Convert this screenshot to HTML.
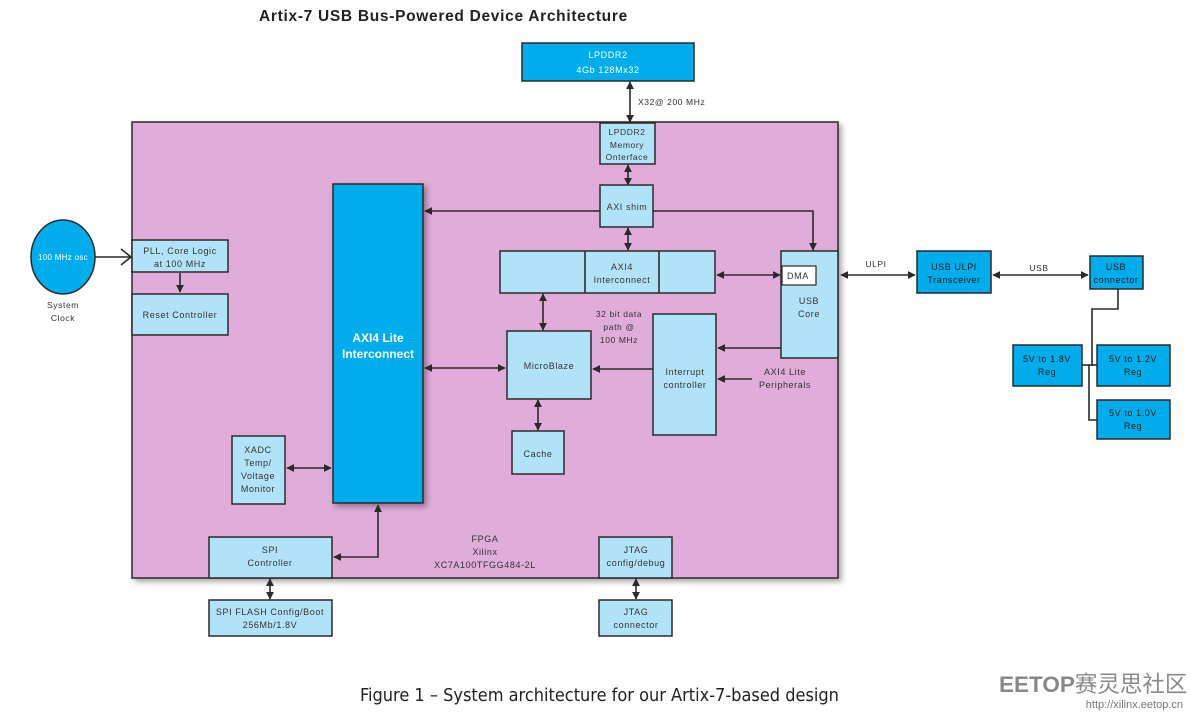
<!DOCTYPE html>
<html><head><meta charset="utf-8"><style>
html,body{margin:0;padding:0;background:#fff;}
svg{display:block;}
text{font-family:"Liberation Sans",sans-serif;font-size:9px;fill:#333;letter-spacing:0.6px;}
.w{fill:#fff;}
.lb{fill:#b1e3f8;stroke:#2a2a2a;stroke-width:1.5;}
.db{fill:#00adec;stroke:#2a2a2a;stroke-width:1.5;}
.ln{stroke:#2a2a2a;stroke-width:1.6;fill:none;}
</style></head><body>
<svg width="1190" height="714" viewBox="0 0 1190 714" xmlns="http://www.w3.org/2000/svg">
<defs>
<marker id="a" viewBox="0 0 10 10" refX="9" refY="5" markerWidth="5" markerHeight="5" orient="auto-start-reverse"><path d="M0,0 L10,5 L0,10 z" fill="#2a2a2a"/></marker>
<filter id="sh" x="-5%" y="-5%" width="115%" height="115%"><feDropShadow dx="3" dy="3" stdDeviation="3" flood-color="#000" flood-opacity="0.35"/></filter>
</defs>
<text x="259" y="21" style="font-size:15.5px;font-weight:bold;fill:#222;letter-spacing:0.7px">Artix-7 USB Bus-Powered Device Architecture</text>

<rect x="132" y="122" width="706" height="456" fill="#e0acd9" stroke="#2a2a2a" stroke-width="1.5" filter="url(#sh)"/>

<rect class="db" x="522" y="43" width="172" height="38"/>
<text class="w" x="608" y="58" text-anchor="middle">LPDDR2</text>
<text class="w" x="608" y="73" text-anchor="middle">4Gb 128Mx32</text>
<line class="ln" x1="630" y1="82" x2="630" y2="122" marker-start="url(#a)" marker-end="url(#a)"/>
<text x="638" y="105" style="font-size:8.5px">X32@ 200 MHz</text>

<rect class="lb" x="600" y="123" width="55" height="41"/>
<text x="627" y="135" text-anchor="middle" style="font-size:8.5px">LPDDR2</text>
<text x="627" y="148" text-anchor="middle" style="font-size:8.5px">Memory</text>
<text x="627" y="160" text-anchor="middle" style="font-size:8.5px">Onterface</text>
<line class="ln" x1="628" y1="165" x2="628" y2="185" marker-start="url(#a)" marker-end="url(#a)"/>

<rect class="lb" x="600" y="185" width="53" height="42"/>
<text x="627" y="210" text-anchor="middle">AXI shim</text>
<line class="ln" x1="600" y1="211" x2="425" y2="211" marker-end="url(#a)"/>
<polyline class="ln" points="653,211 813,211 813,250" marker-end="url(#a)"/>
<line class="ln" x1="628" y1="228" x2="628" y2="250" marker-start="url(#a)" marker-end="url(#a)"/>

<rect class="lb" x="500" y="251" width="215" height="42"/>
<line class="ln" x1="585" y1="251" x2="585" y2="293"/>
<line class="ln" x1="659" y1="251" x2="659" y2="293"/>
<text x="622" y="270" text-anchor="middle">AXI4</text>
<text x="622" y="283" text-anchor="middle">Interconnect</text>
<line class="ln" x1="717" y1="275" x2="780" y2="275" marker-start="url(#a)" marker-end="url(#a)"/>
<line class="ln" x1="543" y1="294" x2="543" y2="330" marker-start="url(#a)" marker-end="url(#a)"/>

<rect class="lb" x="781" y="251" width="57" height="107"/>
<rect x="782" y="266" width="34" height="19" fill="#fff" stroke="#2a2a2a" stroke-width="1.2"/>
<text x="787" y="279">DMA</text>
<text x="809" y="304" text-anchor="middle">USB</text>
<text x="809" y="317" text-anchor="middle">Core</text>
<line class="ln" x1="781" y1="348" x2="718" y2="348" marker-end="url(#a)"/>

<rect class="db" x="333" y="184" width="90" height="319" filter="url(#sh)"/>
<text class="w" x="378" y="342" text-anchor="middle" style="font-size:12px;font-weight:bold;letter-spacing:0">AXI4 Lite</text>
<text class="w" x="378" y="358" text-anchor="middle" style="font-size:12px;font-weight:bold;letter-spacing:0">Interconnect</text>

<ellipse cx="63" cy="257" rx="32" ry="37" fill="#00adec" stroke="#2a2a2a" stroke-width="1.5"/>
<text class="w" x="63" y="260" text-anchor="middle" style="font-size:8px;letter-spacing:0.3px">100 MHz osc</text>
<polyline class="ln" points="95,257 131,257"/>
<polyline class="ln" points="121,249 131,257 121,265"/>
<text x="63" y="308" text-anchor="middle" style="font-size:8.5px">System</text>
<text x="63" y="321" text-anchor="middle" style="font-size:8.5px">Clock</text>

<rect class="lb" x="132" y="240" width="96" height="32"/>
<text x="180" y="254" text-anchor="middle">PLL, Core Logic</text>
<text x="180" y="267" text-anchor="middle">at 100 MHz</text>
<line class="ln" x1="180" y1="273" x2="180" y2="292" marker-end="url(#a)"/>
<rect class="lb" x="132" y="294" width="96" height="41"/>
<text x="180" y="318" text-anchor="middle">Reset Controller</text>

<rect class="lb" x="507" y="331" width="84" height="68"/>
<text x="549" y="369" text-anchor="middle">MicroBlaze</text>
<line class="ln" x1="425" y1="368" x2="505" y2="368" marker-start="url(#a)" marker-end="url(#a)"/>
<line class="ln" x1="658" y1="369" x2="593" y2="369" marker-end="url(#a)"/>
<text x="619" y="317" text-anchor="middle" style="font-size:8.5px">32 bit data</text>
<text x="619" y="330" text-anchor="middle" style="font-size:8.5px">path @</text>
<text x="619" y="343" text-anchor="middle" style="font-size:8.5px">100 MHz</text>
<line class="ln" x1="538" y1="400" x2="538" y2="430" marker-start="url(#a)" marker-end="url(#a)"/>
<rect class="lb" x="512" y="431" width="52" height="43"/>
<text x="538" y="457" text-anchor="middle">Cache</text>

<rect class="lb" x="653" y="314" width="63" height="121"/>
<text x="685" y="375" text-anchor="middle">Interrupt</text>
<text x="685" y="388" text-anchor="middle">controller</text>
<line class="ln" x1="752" y1="379" x2="718" y2="379" marker-end="url(#a)"/>
<text x="785" y="375" text-anchor="middle">AXI4 Lite</text>
<text x="785" y="388" text-anchor="middle">Peripherals</text>

<rect class="lb" x="232" y="436" width="53" height="68"/>
<text x="258" y="453" text-anchor="middle">XADC</text>
<text x="258" y="466" text-anchor="middle">Temp/</text>
<text x="258" y="479" text-anchor="middle">Voltage</text>
<text x="258" y="492" text-anchor="middle">Monitor</text>
<line class="ln" x1="287" y1="468" x2="331" y2="468" marker-start="url(#a)" marker-end="url(#a)"/>

<rect class="lb" x="209" y="537" width="123" height="41"/>
<text x="270" y="553" text-anchor="middle">SPI</text>
<text x="270" y="566" text-anchor="middle">Controller</text>
<polyline class="ln" points="378,505 378,557 334,557" marker-start="url(#a)" marker-end="url(#a)"/>
<line class="ln" x1="270" y1="579" x2="270" y2="599" marker-start="url(#a)" marker-end="url(#a)"/>
<rect class="lb" x="209" y="600" width="123" height="36"/>
<text x="270" y="615" text-anchor="middle">SPI FLASH Config/Boot</text>
<text x="270" y="628" text-anchor="middle">256Mb/1.8V</text>

<text x="485" y="542" text-anchor="middle">FPGA</text>
<text x="485" y="555" text-anchor="middle">Xilinx</text>
<text x="485" y="568" text-anchor="middle">XC7A100TFGG484-2L</text>

<rect class="lb" x="599" y="537" width="73" height="41"/>
<text x="636" y="553" text-anchor="middle">JTAG</text>
<text x="636" y="566" text-anchor="middle">config/debug</text>
<line class="ln" x1="636" y1="579" x2="636" y2="599" marker-start="url(#a)" marker-end="url(#a)"/>
<rect class="lb" x="599" y="600" width="73" height="36"/>
<text x="636" y="615" text-anchor="middle">JTAG</text>
<text x="636" y="628" text-anchor="middle">connector</text>

<line class="ln" x1="841" y1="275" x2="915" y2="275" marker-start="url(#a)" marker-end="url(#a)"/>
<text x="876" y="267" text-anchor="middle" style="font-size:8.5px">ULPI</text>
<rect class="db" x="917" y="251" width="74" height="42"/>
<text x="954" y="270" text-anchor="middle" style="fill:#1a1a1a">USB ULPI</text>
<text x="954" y="283" text-anchor="middle" style="fill:#1a1a1a">Transceiver</text>
<line class="ln" x1="993" y1="275" x2="1088" y2="275" marker-start="url(#a)" marker-end="url(#a)"/>
<text x="1039" y="271" text-anchor="middle" style="font-size:8.5px">USB</text>
<rect class="db" x="1090" y="256" width="53" height="33"/>
<text x="1116" y="270" text-anchor="middle" style="fill:#1a1a1a">USB</text>
<text x="1116" y="283" text-anchor="middle" style="fill:#1a1a1a">connector</text>
<polyline class="ln" points="1118,289 1118,309 1092,309 1092,366"/>
<polyline class="ln" points="1082,365 1097,365"/>
<polyline class="ln" points="1089,365 1089,420 1097,420"/>
<rect class="db" x="1013" y="345" width="69" height="41"/>
<text x="1047" y="362" text-anchor="middle" style="fill:#1a1a1a">5V to 1.8V</text>
<text x="1047" y="375" text-anchor="middle" style="fill:#1a1a1a">Reg</text>
<rect class="db" x="1097" y="345" width="73" height="41"/>
<text x="1133" y="362" text-anchor="middle" style="fill:#1a1a1a">5V to 1.2V</text>
<text x="1133" y="375" text-anchor="middle" style="fill:#1a1a1a">Reg</text>
<rect class="db" x="1097" y="400" width="73" height="39"/>
<text x="1133" y="416" text-anchor="middle" style="fill:#1a1a1a">5V to 1.0V</text>
<text x="1133" y="429" text-anchor="middle" style="fill:#1a1a1a">Reg</text>

<text x="360" y="701" style="font-family:'DejaVu Sans Condensed','Liberation Sans',sans-serif;font-size:18px;fill:#222;letter-spacing:0">Figure 1 – System architecture for our Artix-7-based design</text>
<text x="999" y="692" style="font-family:'Liberation Sans','Noto Sans CJK SC',sans-serif;font-size:22.5px;font-weight:bold;fill:#888;letter-spacing:0">EETOP<tspan style="font-weight:normal">赛灵思社区</tspan></text>
<text x="1183" y="708" text-anchor="end" style="font-size:11px;fill:#777;letter-spacing:0">http://xilinx.eetop.cn</text>
</svg>
</body></html>
